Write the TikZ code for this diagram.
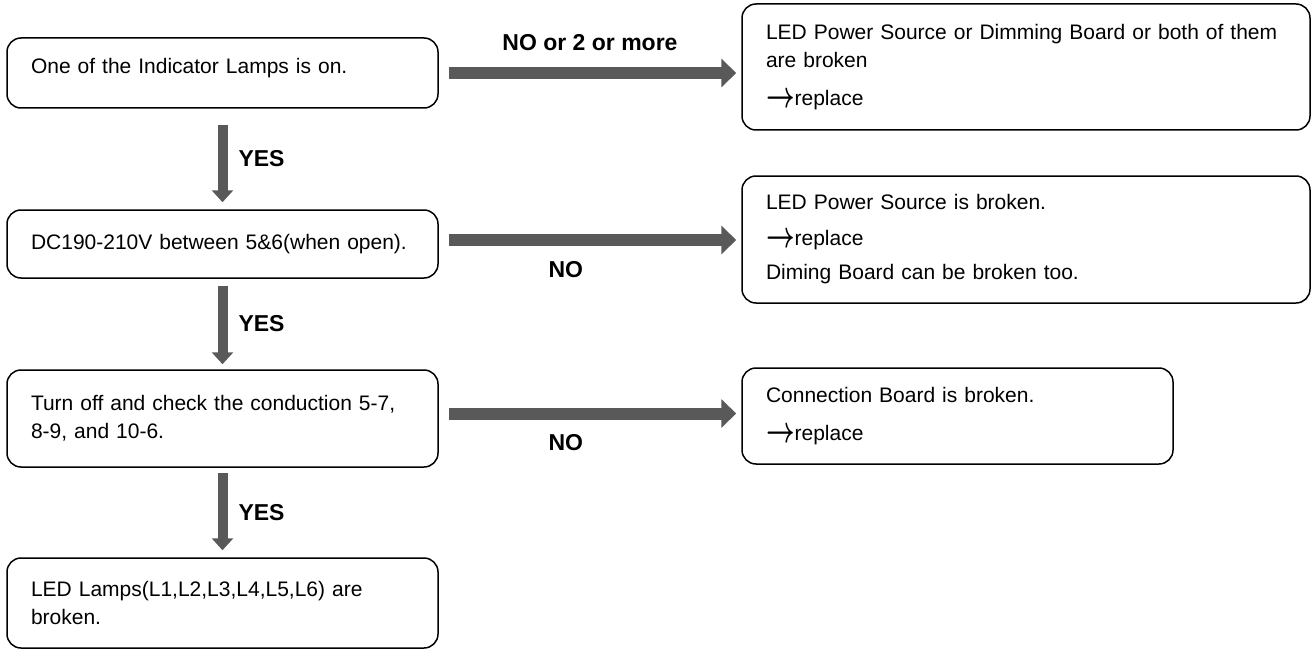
\documentclass[tikz,border=0pt]{standalone}
\usepackage{fontspec}
\usepackage{graphicx}
\setmainfont{Liberation Sans}
\usetikzlibrary{arrows.meta}
\definecolor{flowgray}{RGB}{89,89,89}
\newcommand{\repl}{\raisebox{-2pt}{\scalebox{1}[1.5]{\fontsize{24}{24}\selectfont\boldmath$\rightarrow$}}replace}

\begin{document}
\begin{tikzpicture}[x=1pt,y=-1pt,
	box/.style={draw, line width=1.5pt, rounded corners=14pt, align=left, inner xsep=24pt, inner ysep=4pt, font=\fontsize{21}{28}\selectfont},
	yesarrow/.style={line width=10pt, flowgray, -{Triangle[width=21pt,length=12pt]}},
	noarrow/.style={line width=12pt, flowgray, -{Triangle[width=28pt,length=15pt]}},
	lbl/.style={text=black, inner sep=0pt, font=\bfseries\fontsize{23}{23}\selectfont}]
	\useasboundingbox (0,0) rectangle (1311,650);
	%%%nodes
	%left column
	\node[box, text width=383pt, minimum height=70pt, text height=15pt, text depth=14pt] at (222.5,73) (lamp){One of the Indicator Lamps is on.};
	\node[box, text width=383pt, minimum height=68pt] at (222.5,244) (volt){DC190-210V between 5\&6(when open).};
	\node[box, text width=383pt, minimum height=97pt] at (222.5,418.5) (cond){Turn off and check the conduction 5-7,\\8-9, and 10-6.};
	\node[box, text width=383pt, minimum height=90pt] at (222.5,603) (leds){LED Lamps(L1,L2,L3,L4,L5,L6) are\\broken.};
	%right column
	\node[box, text width=520pt, minimum height=126pt] at (1026,67) (both){LED Power Source or Dimming Board or both of them\\are broken\\[10pt]\repl};
	\node[box, text width=520pt, minimum height=127pt] at (1026,239.5) (power){LED Power Source is broken.\\[8pt]\repl\\[6pt]Diming Board can be broken too.};
	\node[box, text width=383pt, minimum height=96pt] at (957.5,416) (board){Connection Board is broken.\\[10pt]\repl};
	%%%links
	%yes
	\draw[yesarrow, shorten <=16pt, shorten >=7pt] (lamp) -- (volt) node[lbl, midway, right=11pt] {YES};
	\draw[yesarrow, shorten <=7pt, shorten >=5pt] (volt) -- (cond) node[lbl, midway, right=11pt] {YES};
	\draw[yesarrow, shorten <=5pt, shorten >=7pt] (cond) -- (leds) node[lbl, midway, right=11pt] {YES};
	%no
	\draw[noarrow, shorten <=10pt, shorten >=5pt] (lamp.east) -- (lamp.east -| both.west) node[lbl, midway, above=16pt] {NO or 2 or more};
	\draw[noarrow, shorten <=10pt, shorten >=5pt] ([yshift=4pt]volt.east) -- ([yshift=4pt]volt.east -| power.west) node[lbl, pos=0.42, below=15pt] {NO};
	\draw[noarrow, shorten <=10pt, shorten >=5pt] ([yshift=5pt]cond.east) -- ([yshift=5pt]cond.east -| board.west) node[lbl, pos=0.42, below=15pt] {NO};
\end{tikzpicture}
\end{document}
